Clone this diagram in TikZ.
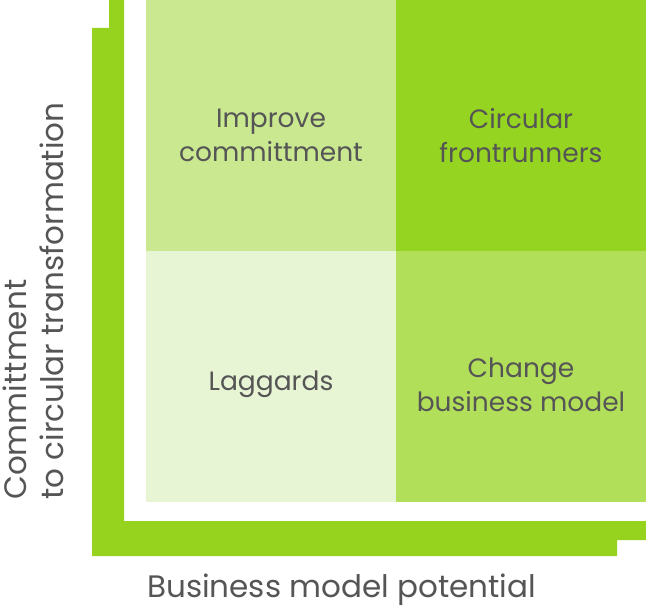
\documentclass[tikz,border=0pt]{standalone}
\usepackage{fontspec}
\setmainfont{Poppins}[Ligatures=NoCommon]
\usetikzlibrary{positioning}
\definecolor{framegreen}{HTML}{95D31F}
\definecolor{tlgreen}{HTML}{C9E890}
\definecolor{trgreen}{HTML}{95D420}
\definecolor{blgreen}{HTML}{E7F5D5}
\definecolor{brgreen}{HTML}{B2DF5A}
\definecolor{textgrey}{HTML}{555555}

\begin{document}
\begin{tikzpicture}[x=1pt,y=-1pt,
  quad/.style={minimum width=250pt, minimum height=251pt, inner sep=0pt, outer sep=0pt},
  quadtext/.style={text=textgrey, font=\fontsize{26.5}{34}\selectfont, align=center},
  axistext/.style={text=textgrey, font=\fontsize{31}{36}\selectfont, inner sep=0pt}]
  \useasboundingbox (0,0) rectangle (646,607);
  % frame
  \fill[framegreen] (109,0) -- (124,0) -- (124,521) -- (646,521) -- (646,540)
    -- (617,540) -- (617,556) -- (92,556) -- (92,28) -- (109,28) -- cycle;
  %
  \node[quad, fill=tlgreen, anchor=north west] (tl) at (146,0) {};
  \node[quad, fill=trgreen, right=0pt of tl] (tr) {};
  \node[quad, fill=blgreen, below=0pt of tl] (bl) {};
  \node[quad, fill=brgreen, right=0pt of bl] (br) {};
  %
  \node[quadtext] (improve) at ([yshift=-10pt]tl.center) {Improve\\committment};
  \node[quadtext] (front) at ([yshift=-10pt]tr.center) {Circular\\frontrunners};
  \node[quadtext] (lag) at ([yshift=-8pt]bl.center) {Laggards};
  \node[quadtext] (change) at ([yshift=-8pt]br.center) {Change\\business model};
  %
  \node[axistext, anchor=base west] (xaxis) at (147,597) {Business model potential};
  \node[axistext, rotate=90, anchor=base west] (yaxis1) at (27,500) {Committment};
  \node[axistext, rotate=90, anchor=base west] (yaxis2) at (63,500) {to circular transformation};
\end{tikzpicture}
\end{document}
